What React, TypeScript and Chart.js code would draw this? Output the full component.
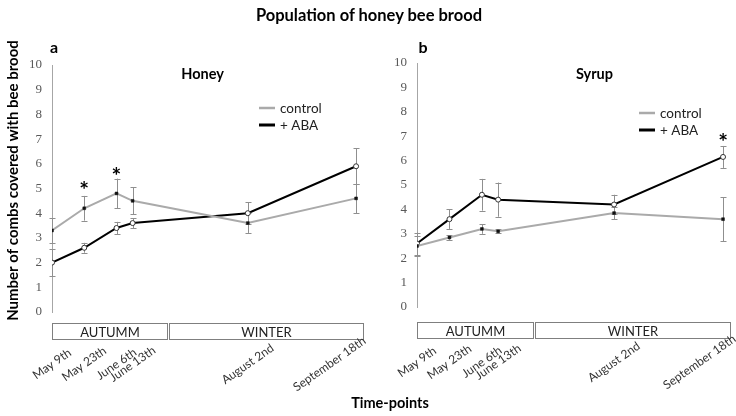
import React, { useEffect, useRef } from "react";
import { Chart, registerables } from "chart.js";

Chart.register(...registerables);

// ---- data ----
const timeLabels = ["May 9th", "May 23th", "June 6th", "June 13th", "August 2nd", "September 18th"];
const timeDays = [0, 14, 28, 35, 85, 132];
const seriesNames = ["control", "+ ABA"];
const yTickValues = [0, 1, 2, 3, 4, 5, 6, 7, 8, 9, 10];

const seasonNames = ["AUTUMM", "WINTER"];
const seasonStartDays = [0, 51];
const seasonEndDays = [50, 135];

const honeyControl = [3.3, 4.2, 4.8, 4.5, 3.6, 4.6];
const honeyControlErr = [0.5, 0.5, 0.6, 0.55, 0.4, 0.6];
const honeyABA = [2.0, 2.6, 3.4, 3.6, 4.0, 5.9];
const honeyABAErr = [0.55, 0.2, 0.25, 0.2, 0.45, 0.72];
const honeyStarDays = [14, 28];
const honeyStarValues = [5.13, 5.71];

const syrupControl = [2.5, 2.85, 3.2, 3.1, 3.85, 3.6];
const syrupControlErr = [0.4, 0.1, 0.2, 0.08, 0.25, 0.9];
const syrupABA = [2.6, 3.6, 4.6, 4.4, 4.2, 6.15];
const syrupABAErr = [0.45, 0.4, 0.65, 0.7, 0.4, 0.45];
const syrupStarDays = [132];
const syrupStarValues = [6.95];

const SANS = "Lato, 'Open Sans', sans-serif";
const SERIF = "'Liberation Serif', 'DejaVu Serif', serif";

type Panel = {
  letter: string;
  title: string;
  control: number[];
  controlErr: number[];
  aba: number[];
  abaErr: number[];
  starDays: number[];
  starValues: number[];
  yWidth: number;
  top: number;
  bottom: number;
  right: number;
  showYTitle: boolean;
  boxTop: number;
  labelCenterY: number;
  clampRight: number;
  legendDx: number;
  legendDy: number;
  titleDx: number;
  titleDy: number;
  letterDx: number;
  letterDy: number;
};

const CANVAS_W = 368;
const CANVAS_H = 416;
const LABEL_ANGLE = (35 * Math.PI) / 180;

function makeOverlay(p: Panel) {
  return {
    id: "overlay" + p.letter,
    beforeDatasetsDraw(chart: any) {
      const ctx = chart.ctx as CanvasRenderingContext2D;
      const xs = chart.scales.x;
      const ys = chart.scales.y;
      const drawErr = (vals: number[], errs: number[]) => {
        ctx.save();
        ctx.strokeStyle = "#8f8f8f";
        ctx.lineWidth = 1;
        for (let i = 0; i < vals.length; i++) {
          const px = Math.round(xs.getPixelForValue(timeDays[i])) + 0.5;
          const t = ys.getPixelForValue(vals[i] + errs[i]);
          const b = ys.getPixelForValue(vals[i] - errs[i]);
          ctx.beginPath();
          ctx.moveTo(px, t);
          ctx.lineTo(px, b);
          ctx.moveTo(px - 3, Math.round(t) + 0.5);
          ctx.lineTo(px + 3, Math.round(t) + 0.5);
          ctx.moveTo(px - 3, Math.round(b) + 0.5);
          ctx.lineTo(px + 3, Math.round(b) + 0.5);
          ctx.stroke();
        }
        ctx.restore();
      };
      drawErr(p.control, p.controlErr);
      drawErr(p.aba, p.abaErr);
    },
    afterDraw(chart: any) {
      const ctx = chart.ctx as CanvasRenderingContext2D;
      const xs = chart.scales.x;
      const ys = chart.scales.y;
      const ca = chart.chartArea;
      ctx.save();
      // season boxes
      for (let i = 0; i < seasonNames.length; i++) {
        const x0 = Math.round(xs.getPixelForValue(seasonStartDays[i])) + 0.5;
        const x1 = Math.round(xs.getPixelForValue(seasonEndDays[i])) + 0.5;
        const y0 = p.boxTop + 0.5;
        const h = 16;
        ctx.fillStyle = "#ffffff";
        ctx.fillRect(x0, y0, x1 - x0, h);
        ctx.strokeStyle = "#7f7f7f";
        ctx.lineWidth = 1;
        ctx.strokeRect(x0, y0, x1 - x0, h);
        ctx.fillStyle = "#222";
        ctx.font = `13px ${SANS}`;
        ctx.textAlign = "center";
        ctx.textBaseline = "middle";
        ctx.fillText(seasonNames[i], (x0 + x1) / 2, y0 + h / 2 + 1);
      }
      // rotated time-point labels, centred under their ticks
      ctx.font = `12px ${SANS}`;
      ctx.fillStyle = "#333";
      ctx.textAlign = "center";
      ctx.textBaseline = "middle";
      const cosA = Math.cos(LABEL_ANGLE);
      const sinA = Math.sin(LABEL_ANGLE);
      xs.ticks.forEach((t: any, i: number) => {
        const label = timeLabels[i];
        let cx = xs.getPixelForValue(t.value);
        const w = ctx.measureText(label).width;
        const halfX = (w / 2) * cosA + 6 * sinA;
        if (cx + halfX > p.clampRight) cx = p.clampRight - halfX;
        ctx.save();
        ctx.translate(cx, p.labelCenterY);
        ctx.rotate(-LABEL_ANGLE);
        ctx.fillText(label, 0, 0);
        ctx.restore();
      });
      // legend
      const lx = ca.left + p.legendDx;
      const ly = ca.top + p.legendDy;
      const colors = ["#aaaaaa", "#000000"];
      const widths = [2.5, 3];
      for (let i = 0; i < seriesNames.length; i++) {
        const yy = ly + i * 17;
        ctx.strokeStyle = colors[i];
        ctx.lineWidth = widths[i];
        ctx.beginPath();
        ctx.moveTo(lx, yy);
        ctx.lineTo(lx + 16, yy);
        ctx.stroke();
        ctx.fillStyle = "#222";
        ctx.font = `13.5px ${SANS}`;
        ctx.textAlign = "left";
        ctx.textBaseline = "middle";
        ctx.fillText(seriesNames[i], lx + 21, yy + 1);
      }
      // asterisks
      ctx.fillStyle = "#000";
      ctx.font = `bold 23px ${SANS}`;
      ctx.textAlign = "center";
      ctx.textBaseline = "alphabetic";
      for (let i = 0; i < p.starDays.length; i++) {
        const px = xs.getPixelForValue(p.starDays[i]);
        const py = ys.getPixelForValue(p.starValues[i]);
        ctx.fillText("*", px, py + 13);
      }
      // panel title and letter
      ctx.font = `bold 14.5px ${SANS}`;
      ctx.textBaseline = "middle";
      ctx.textAlign = "center";
      ctx.fillText(p.title, ca.left + p.titleDx, ca.top + p.titleDy);
      ctx.font = `bold 16px ${SANS}`;
      ctx.textAlign = "left";
      ctx.fillText(p.letter, ca.left + p.letterDx, ca.top + p.letterDy);
      // y-axis title
      if (p.showYTitle) {
        ctx.translate(13, (ca.top + ca.bottom) / 2 - 8);
        ctx.rotate(-Math.PI / 2);
        ctx.font = `bold 15px ${SANS}`;
        ctx.textAlign = "center";
        ctx.textBaseline = "middle";
        ctx.fillText("Number of combs covered with bee brood", 0, 0);
      }
      ctx.restore();
    },
  };
}

function buildChart(canvas: HTMLCanvasElement, p: Panel) {
  return new Chart(canvas, {
    type: "line",
    data: {
      datasets: [
        {
          label: seriesNames[0],
          data: timeDays.map((d, i) => ({ x: d, y: p.control[i] })),
          borderColor: "#aaaaaa",
          borderWidth: 2,
          pointStyle: "rect",
          pointRadius: 2,
          pointBackgroundColor: "#111",
          pointBorderColor: "#111",
          pointBorderWidth: 0.5,
          tension: 0,
        },
        {
          label: seriesNames[1],
          data: timeDays.map((d, i) => ({ x: d, y: p.aba[i] })),
          borderColor: "#000000",
          borderWidth: 2,
          pointStyle: "circle",
          pointRadius: 2.5,
          pointBackgroundColor: "#ffffff",
          pointBorderColor: "#333",
          pointBorderWidth: 1,
          tension: 0,
        },
      ],
    },
    options: {
      animation: false,
      responsive: false,
      devicePixelRatio: 1,
      layout: { padding: { left: 0, right: p.right, top: p.top, bottom: 0 } },
      plugins: {
        legend: { display: false },
        title: { display: false },
        tooltip: { enabled: false },
      },
      scales: {
        x: {
          type: "linear",
          min: 0,
          max: 135,
          grid: { display: false, drawTicks: false },
          border: { display: false },
          afterBuildTicks: (scale: any) => {
            scale.ticks = timeDays.map((v) => ({ value: v }));
          },
          afterFit: (scale: any) => {
            scale.height = CANVAS_H - p.bottom;
            scale.paddingLeft = 0;
            scale.paddingRight = 0;
          },
          ticks: { display: false, autoSkip: false },
        },
        y: {
          min: 0,
          max: 10,
          grid: { display: false, drawTicks: false },
          border: { display: true, color: "#a6a6a6", width: 1 },
          afterBuildTicks: (scale: any) => {
            scale.ticks = yTickValues.map((v) => ({ value: v }));
          },
          afterFit: (scale: any) => {
            scale.width = p.yWidth;
            scale.paddingTop = 0;
            scale.paddingBottom = 0;
          },
          ticks: {
            padding: 10,
            color: "#595959",
            font: { family: SERIF, size: 13 },
          },
        },
      },
    },
    plugins: [makeOverlay(p)],
  } as any);
}

const panelA: Panel = {
  letter: "a",
  title: "Honey",
  control: honeyControl,
  controlErr: honeyControlErr,
  aba: honeyABA,
  abaErr: honeyABAErr,
  starDays: honeyStarDays,
  starValues: honeyStarValues,
  yWidth: 52,
  top: 65,
  bottom: 312,
  right: 3,
  showYTitle: true,
  boxTop: 323,
  labelCenterY: 364,
  clampRight: 368,
  legendDx: 207,
  legendDy: 43,
  titleDx: 150.5,
  titleDy: 9.5,
  letterDx: -2,
  letterDy: -17,
};

const panelB: Panel = {
  letter: "b",
  title: "Syrup",
  control: syrupControl,
  controlErr: syrupControlErr,
  aba: syrupABA,
  abaErr: syrupABAErr,
  starDays: syrupStarDays,
  starValues: syrupStarValues,
  yWidth: 49,
  top: 63,
  bottom: 307,
  right: 6,
  showYTitle: false,
  boxTop: 322,
  labelCenterY: 362,
  clampRight: 370,
  legendDx: 222,
  legendDy: 50,
  titleDx: 177.5,
  titleDy: 11.5,
  letterDx: 1.5,
  letterDy: -15,
};

export default function App() {
  const refA = useRef<HTMLCanvasElement>(null);
  const refB = useRef<HTMLCanvasElement>(null);
  useEffect(() => {
    const a = buildChart(refA.current!, panelA);
    const b = buildChart(refB.current!, panelB);
    return () => {
      a.destroy();
      b.destroy();
    };
  }, []);
  return (
    <div
      style={{
        position: "absolute",
        left: 0,
        top: 0,
        width: 736,
        height: 416,
        background: "#ffffff",
        overflow: "hidden",
      }}
    >
      <canvas
        ref={refA}
        width={CANVAS_W}
        height={CANVAS_H}
        style={{ position: "absolute", left: 0, top: 0, display: "block" }}
      />
      <canvas
        ref={refB}
        width={CANVAS_W}
        height={CANVAS_H}
        style={{ position: "absolute", left: CANVAS_W, top: 0, display: "block" }}
      />
      <div
        style={{
          position: "absolute",
          left: 0,
          top: 5,
          width: 738,
          textAlign: "center",
          fontFamily: SANS,
          fontWeight: "bold",
          fontSize: 16.5,
          lineHeight: "20px",
          color: "#000",
        }}
      >
        Population of honey bee brood
      </div>
      <div
        style={{
          position: "absolute",
          left: 0,
          top: 394,
          width: 780,
          textAlign: "center",
          fontFamily: SANS,
          fontWeight: "bold",
          fontSize: 14.5,
          lineHeight: "18px",
          color: "#000",
        }}
      >
        Time-points
      </div>
    </div>
  );
}
